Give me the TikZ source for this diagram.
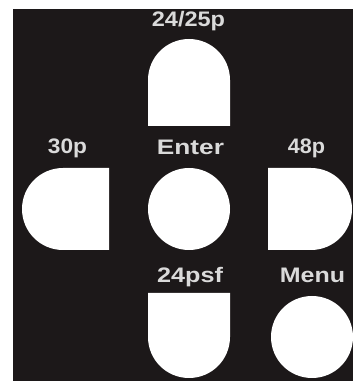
\documentclass[tikz,border=0pt]{standalone}
\usepackage{fontspec}
\setmainfont{Liberation Sans}
\definecolor{panel}{HTML}{1C1819}
\definecolor{labelgray}{HTML}{DADADA}
\begin{document}
\begin{tikzpicture}[x=1pt,y=1pt,
  btn/.style={fill=white},
  lbl/.style={text=labelgray,font=\fontsize{21}{21}\selectfont\bfseries,anchor=base,inner sep=0pt}]
\useasboundingbox (0,0) rectangle (353,381);
\fill[white] (0,0) rectangle (353,381);
\fill[panel] (13,0) rectangle (353,372);
% buttons
\fill[btn] (148,255) -- (148,301) arc[start angle=180,end angle=0,radius=41] -- (230,255) -- cycle;
\fill[btn] (109,213) -- (63,213) arc[start angle=90,end angle=270,radius=41] -- (109,131) -- cycle;
\fill[btn] (189,172) circle[radius=41];
\fill[btn] (268,213) -- (311,213) arc[start angle=90,end angle=-90,radius=41] -- (268,131) -- cycle;
\fill[btn] (148,88) -- (148,44) arc[start angle=180,end angle=360,radius=41] -- (230,88) -- cycle;
\fill[btn] (312,44) circle[radius=41];
% labels
\node[lbl,xscale=1.12] (l2425) at (188.5,354) {24/25p};
\node[lbl,xscale=1.08] (l30) at (67.5,227) {30p};
\node[lbl,xscale=1.25] (lenter) at (190.5,226) {Enter};
\node[lbl,xscale=1.03] (l48) at (306.5,227) {48p};
\node[lbl,xscale=1.2] (l24psf) at (190,99) {24psf};
\node[lbl,xscale=1.19] (lmenu) at (312.5,99) {Menu};
\end{tikzpicture}
\end{document}
